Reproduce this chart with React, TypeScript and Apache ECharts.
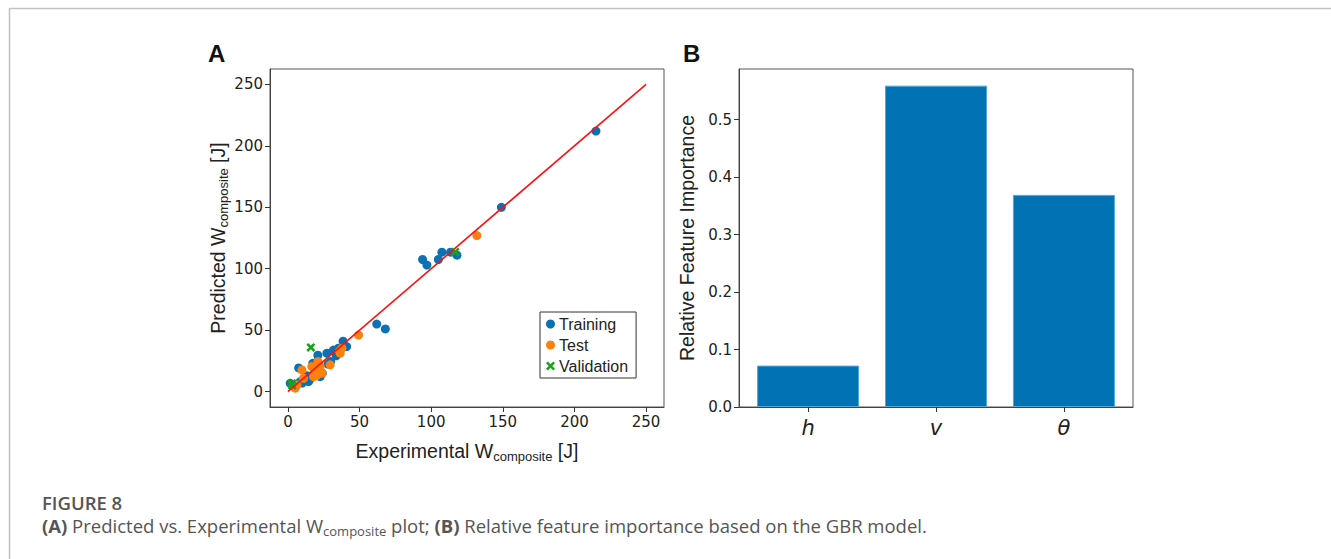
import React, { useEffect, useRef } from "react";
import * as echarts from "echarts";

// Panel A: predicted vs experimental W_composite [J]
const trainingPoints: [number, number][] = [
  [215, 212], [149, 150], [94, 107.5], [97, 103], [105, 107.5], [107.5, 113.5],
  [113.5, 113.5], [118, 111], [62, 55], [68, 51],
  [38.5, 41], [41, 36.7], [35.3, 35.4], [31.8, 33.8], [27.2, 31.3], [33.7, 29.1],
  [20.9, 29.7], [29.8, 24.5], [7.5, 19.3], [20.7, 24.5], [17.4, 23], [22.5, 12.2],
  [14.4, 8.2], [8.6, 8.2], [5.1, 5.5], [1.6, 6.8], [17.9, 13.6], [13.3, 13],
  [4, 5.4], [10, 7], [15, 9.5], [24, 15], [28, 22.5],
];
const testPoints: [number, number][] = [
  [131.9, 127], [49.3, 46], [36.5, 31.3], [37.7, 35.4], [29.5, 21.8], [22.5, 20.4],
  [23.7, 15], [17.9, 12.2], [16.7, 20.4], [9.8, 17.7], [10.9, 10.9], [5.1, 2.8],
  [6.3, 5.4], [20, 13], [21, 24.5], [19, 18], [36, 33],
];
const validationPoints: [number, number][] = [
  [16, 36], [2.8, 6.8], [116.7, 113.6], [3, 5],
];
const identityLine: [number, number][] = [[0, 0], [250, 250]];
const axisTicksA = [0, 50, 100, 150, 200, 250];

// Panel B: relative feature importance
const features = ["h", "v", "θ"];
const importance = [0.072, 0.559, 0.369];
const importanceTicks = [0, 0.1, 0.2, 0.3, 0.4, 0.5];

const BLUE = "#0a72b4";
const ORANGE = "#ff800e";
const GREEN = "#1aa31a";
const XPATH = "path://M0,2 L2,0 L5,3 L8,0 L10,2 L7,5 L10,8 L8,10 L5,7 L2,10 L0,8 L3,5 Z";

const tickFont = { fontFamily: "DejaVu Sans", fontSize: 15, color: "#222" };
const nameRich = {
  a: { fontFamily: "Liberation Sans", fontSize: 19.5, color: "#222", lineHeight: 24 },
  b: { fontFamily: "Liberation Sans", fontSize: 13, color: "#222", lineHeight: 13, verticalAlign: "bottom" as const },
};

export default function App() {
  const ref = useRef<HTMLDivElement>(null);
  useEffect(() => {
    document.body.style.margin = "0";
    const chart = echarts.init(ref.current!, undefined, { renderer: "svg" });
    const gridA = { left: 270, top: 69, width: 394, height: 338 };
    const gridB = { left: 739, top: 69, width: 394, height: 338 };
    const commonAxis = {
      axisLine: { show: true, onZero: false, lineStyle: { color: "#444", width: 1 } },
      axisTick: { show: true, inside: false, length: 5, lineStyle: { color: "#333" } },
      splitLine: { show: false },
    };
    chart.setOption({
      animation: false,
      backgroundColor: "#fff",
      grid: [
        { ...gridA, show: true, borderColor: "#555", borderWidth: 1, backgroundColor: "transparent" },
        { ...gridB, show: true, borderColor: "#555", borderWidth: 1, backgroundColor: "transparent" },
      ],
      xAxis: [
        {
          type: "value", gridIndex: 0, min: -12.5, max: 262.5,
          ...commonAxis,
          axisTick: { ...commonAxis.axisTick, customValues: axisTicksA },
          axisLabel: { ...tickFont, margin: 7, customValues: axisTicksA },
          name: "{a|Experimental W}{b|composite}{a| [J]}",
          nameLocation: "middle", nameGap: 32,
          nameTextStyle: { rich: nameRich },
        },
        {
          type: "value", gridIndex: 1, min: -0.54, max: 2.54,
          ...commonAxis,
          axisTick: { ...commonAxis.axisTick, customValues: [0, 1, 2] },
          axisLabel: {
            fontFamily: "DejaVu Sans", fontStyle: "italic", fontSize: 21, color: "#222",
            margin: 10, customValues: [0, 1, 2],
            formatter: (v: number) => features[Math.round(v)] ?? "",
          },
        },
      ],
      yAxis: [
        {
          type: "value", gridIndex: 0, min: -12.5, max: 262.5,
          ...commonAxis,
          axisTick: { ...commonAxis.axisTick, customValues: axisTicksA },
          axisLabel: { ...tickFont, margin: 7, customValues: axisTicksA },
          name: "{a|Predicted W}{b|composite}{a| [J]}",
          nameLocation: "middle", nameGap: 39,
          nameTextStyle: { rich: nameRich },
        },
        {
          type: "value", gridIndex: 1, min: 0, max: 0.588,
          ...commonAxis,
          axisTick: { ...commonAxis.axisTick, customValues: importanceTicks },
          axisLabel: {
            ...tickFont, margin: 7, customValues: importanceTicks,
            formatter: (v: number) => v.toFixed(1),
          },
          name: "Relative Feature Importance",
          nameLocation: "middle", nameGap: 42,
          nameTextStyle: { fontFamily: "Liberation Sans", fontSize: 19.5, color: "#222" },
        },
      ],
      legend: {
        data: ["Training", "Test", "Validation"],
        orient: "vertical",
        left: 540, top: 312,
        padding: [4, 8, 4, 6],
        itemGap: 5,
        itemWidth: 9, itemHeight: 9,
        backgroundColor: "#fff",
        borderColor: "#333", borderWidth: 1, borderRadius: 0,
        textStyle: { fontFamily: "Liberation Sans", fontSize: 16, color: "#222", lineHeight: 16, padding: [0, 0, 0, -1] },
      },
      series: [
        {
          name: "Training", type: "scatter", xAxisIndex: 0, yAxisIndex: 0,
          data: trainingPoints, symbol: "circle", symbolSize: 9,
          itemStyle: { color: BLUE, opacity: 1 }, z: 2,
        },
        {
          name: "Test", type: "scatter", xAxisIndex: 0, yAxisIndex: 0,
          data: testPoints, symbol: "circle", symbolSize: 9,
          itemStyle: { color: ORANGE, opacity: 1 }, z: 3,
        },
        {
          name: "Validation", type: "scatter", xAxisIndex: 0, yAxisIndex: 0,
          data: validationPoints, symbol: XPATH, symbolSize: 9,
          itemStyle: { color: GREEN, opacity: 1 }, z: 4,
        },
        {
          name: "fit", type: "line", xAxisIndex: 0, yAxisIndex: 0,
          data: identityLine, showSymbol: false, symbol: "none",
          lineStyle: { color: "#ff1010", width: 1.6 }, z: 5, silent: true,
        },
        {
          name: "importance", type: "bar", xAxisIndex: 1, yAxisIndex: 1,
          data: importance.map((v, i) => [i, v]),
          barWidth: 102,
          itemStyle: { color: "#0173b4", borderColor: "#4fa8dc", borderWidth: 1 },
        },
      ],
      graphic: [
        { type: "line", shape: { x1: 9, y1: 8.5, x2: 1331, y2: 8.5 }, style: { stroke: "#c2c2c2", lineWidth: 1.5 } },
        { type: "line", shape: { x1: 9.5, y1: 8, x2: 9.5, y2: 559 }, style: { stroke: "#c2c2c2", lineWidth: 1.5 } },
        { type: "text", left: 208, top: 41, style: { text: "A", fontFamily: "Liberation Sans", fontWeight: "bold", fontSize: 24, fill: "#111" } },
        { type: "text", left: 683, top: 41, style: { text: "B", fontFamily: "Liberation Sans", fontWeight: "bold", fontSize: 24, fill: "#111" } },
        { type: "text", left: 42, top: 493, style: { text: "FIGURE 8", fontFamily: "Open Sans", fontWeight: 600, fontSize: 18.5, fill: "#555" } },
        {
          type: "text", left: 42, top: 516,
          style: {
            text: "{b|(A)}{n| Predicted vs. Experimental W}{s|composite}{n| plot; }{b|(B)}{n| Relative feature importance based on the GBR model.}",
            rich: {
              b: { fontFamily: "Open Sans", fontWeight: 700, fontSize: 18.5, fill: "#555", lineHeight: 24 },
              n: { fontFamily: "Open Sans", fontSize: 18.5, fill: "#555", lineHeight: 24 },
              s: { fontFamily: "Open Sans", fontSize: 13, fill: "#555", lineHeight: 13, verticalAlign: "bottom" },
            },
          },
        },
      ],
    });
    return () => chart.dispose();
  }, []);
  return <div ref={ref} style={{ position: "absolute", left: 0, top: 0, width: 1331, height: 559 }} />;
}
